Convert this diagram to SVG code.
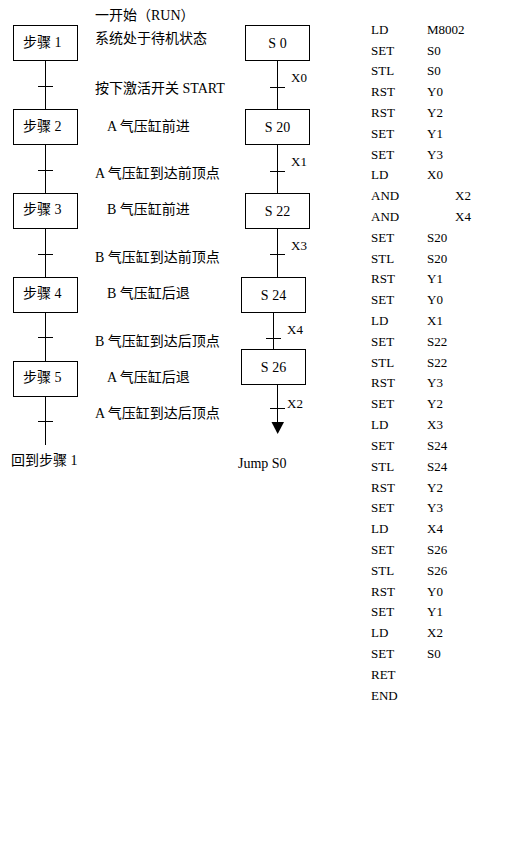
<svg xmlns="http://www.w3.org/2000/svg" width="520" height="844" viewBox="0 0 520 844">
<style>
.box{fill:#fff;stroke:#000;stroke-width:1}
.ln{stroke:#000;stroke-width:1;fill:none}
.t{font-family:"Liberation Serif","Noto Sans CJK SC",serif;font-size:14px;fill:#000}
.m{font-family:"Liberation Serif","Noto Sans CJK SC",serif;font-size:13px;fill:#000}
.b{font-size:14px}
.c{text-anchor:middle}
</style>
<rect width="520" height="844" fill="#fff"/>
<g id="connectors">
<path class="ln" d="M45.5 60V109M38 86.5H53M45.5 145V193M38 170.5H53M45.5 229V277M38 254.5H53M45.5 313V361M38 337.5H53M45.5 397V445M38 421.5H53"/>
<path class="ln" d="M277.5 60V109M270 87.5H285M277.5 145V193M270 171.5H285M277.5 229V277M270 254.5H285M273.5 313V349M266 338.5H281M277.5 385V422M270 408.5H285"/>
<polygon points="271.5,422 284,422 277.7,434" fill="#000"/>
</g>
<g id="step1"><rect class="box" x="13.5" y="25.5" width="64" height="35"/><text class="t" x="23" y="47">步骤 1</text></g>
<g id="step2"><rect class="box" x="13.5" y="109.5" width="64" height="35"/><text class="t" x="23" y="131">步骤 2</text></g>
<g id="step3"><rect class="box" x="13.5" y="193.5" width="64" height="35"/><text class="t" x="23" y="214">步骤 3</text></g>
<g id="step4"><rect class="box" x="13.5" y="277.5" width="64" height="35"/><text class="t" x="23" y="298">步骤 4</text></g>
<g id="step5"><rect class="box" x="13.5" y="361.5" width="64" height="35"/><text class="t" x="23" y="382">步骤 5</text></g>
<g id="back"><text class="t" x="11" y="465">回到步骤 1</text></g>
<g id="desc">
<text class="t" x="95" y="20">一开始（RUN）</text>
<text class="t" x="95" y="43">系统处于待机状态</text>
<text class="t" x="95" y="93">按下激活开关 START</text>
<text class="t" x="107" y="131">A 气压缸前进</text>
<text class="t" x="95" y="178">A 气压缸到达前顶点</text>
<text class="t" x="107" y="214">B 气压缸前进</text>
<text class="t" x="95" y="262">B 气压缸到达前顶点</text>
<text class="t" x="107" y="298">B 气压缸后退</text>
<text class="t" x="95" y="346">B 气压缸到达后顶点</text>
<text class="t" x="107" y="382">A 气压缸后退</text>
<text class="t" x="95" y="418">A 气压缸到达后顶点</text>
</g>
<g id="s0"><rect class="box" x="245.5" y="25.5" width="64" height="35"/><text class="m b c" x="277.5" y="48">S 0</text></g>
<g id="s20"><rect class="box" x="245.5" y="109.5" width="64" height="35"/><text class="m b c" x="277.5" y="132">S 20</text></g>
<g id="s22"><rect class="box" x="245.5" y="193.5" width="64" height="35"/><text class="m b c" x="277.5" y="216">S 22</text></g>
<g id="s24"><rect class="box" x="241.5" y="277.5" width="64" height="35"/><text class="m b c" x="273.5" y="300">S 24</text></g>
<g id="s26"><rect class="box" x="241.5" y="349.5" width="64" height="35"/><text class="m b c" x="273.5" y="372">S 26</text></g>
<g id="conds">
<text class="m" x="291" y="82">X0</text>
<text class="m" x="291" y="166">X1</text>
<text class="m" x="291" y="250">X3</text>
<text class="m" x="287" y="334">X4</text>
<text class="m" x="287" y="408">X2</text>
<text class="m b" x="238" y="468">Jump S0</text>
</g>
<g id="program" class="m">
<text x="371" y="34">LD</text><text x="427" y="34">M8002</text>
<text x="371" y="55">SET</text><text x="427" y="55">S0</text>
<text x="371" y="75">STL</text><text x="427" y="75">S0</text>
<text x="371" y="96">RST</text><text x="427" y="96">Y0</text>
<text x="371" y="117">RST</text><text x="427" y="117">Y2</text>
<text x="371" y="138">SET</text><text x="427" y="138">Y1</text>
<text x="371" y="159">SET</text><text x="427" y="159">Y3</text>
<text x="371" y="179">LD</text><text x="427" y="179">X0</text>
<text x="371" y="200">AND</text><text x="455" y="200">X2</text>
<text x="371" y="221">AND</text><text x="455" y="221">X4</text>
<text x="371" y="242">SET</text><text x="427" y="242">S20</text>
<text x="371" y="263">STL</text><text x="427" y="263">S20</text>
<text x="371" y="283">RST</text><text x="427" y="283">Y1</text>
<text x="371" y="304">SET</text><text x="427" y="304">Y0</text>
<text x="371" y="325">LD</text><text x="427" y="325">X1</text>
<text x="371" y="346">SET</text><text x="427" y="346">S22</text>
<text x="371" y="367">STL</text><text x="427" y="367">S22</text>
<text x="371" y="387">RST</text><text x="427" y="387">Y3</text>
<text x="371" y="408">SET</text><text x="427" y="408">Y2</text>
<text x="371" y="429">LD</text><text x="427" y="429">X3</text>
<text x="371" y="450">SET</text><text x="427" y="450">S24</text>
<text x="371" y="471">STL</text><text x="427" y="471">S24</text>
<text x="371" y="492">RST</text><text x="427" y="492">Y2</text>
<text x="371" y="512">SET</text><text x="427" y="512">Y3</text>
<text x="371" y="533">LD</text><text x="427" y="533">X4</text>
<text x="371" y="554">SET</text><text x="427" y="554">S26</text>
<text x="371" y="575">STL</text><text x="427" y="575">S26</text>
<text x="371" y="596">RST</text><text x="427" y="596">Y0</text>
<text x="371" y="616">SET</text><text x="427" y="616">Y1</text>
<text x="371" y="637">LD</text><text x="427" y="637">X2</text>
<text x="371" y="658">SET</text><text x="427" y="658">S0</text>
<text x="371" y="679">RET</text>
<text x="371" y="700">END</text>
</g>
</svg>
